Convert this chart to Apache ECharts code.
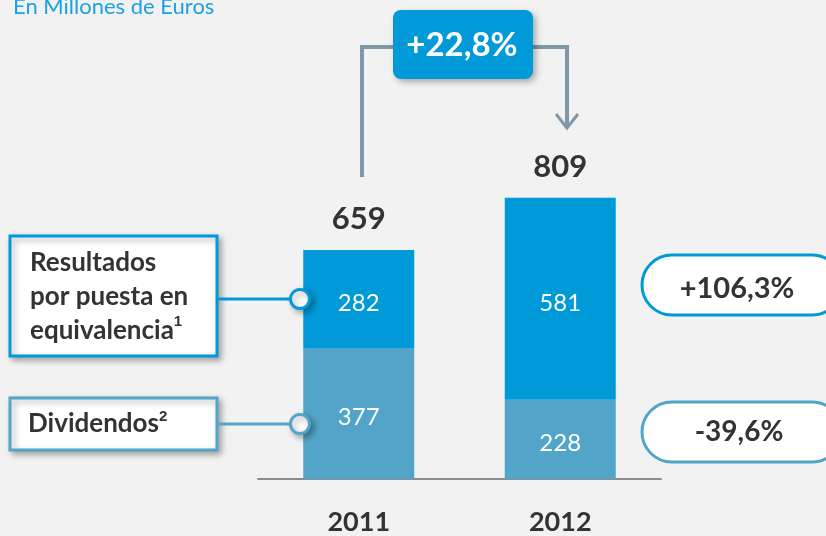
<!DOCTYPE html>
<html>
<head>
<meta charset="utf-8">
<script src="https://cdn.jsdelivr.net/npm/echarts@6/dist/echarts.min.js"></script>
<style>
  html, body { margin: 0; padding: 0; background: #f2f2f2; }
  #chart { width: 826px; height: 536px; }
</style>
</head>
<body>
<div id="chart"></div>
<script>
  // datos (millones de euros)
  const years = ['2011', '2012'];
  const dividendos = [377, 228];
  const resultados = [282, 581];
  const totales = [659, 809];

  const azul = '#009ad8';
  const azulClaro = '#52a5c9';
  const gris = '#7f98a6';
  const texto = '#333333';
  const font = 'Lato, "Noto Sans", sans-serif';

  const sombra = {
    shadowBlur: 6,
    shadowOffsetX: 3,
    shadowOffsetY: 3,
    shadowColor: 'rgba(0,0,0,0.3)'
  };

  const chart = echarts.init(document.getElementById('chart'));
  chart.setOption({
    backgroundColor: '#f2f2f2',
    animation: false,
    grid: { left: 258, right: 165, top: 131.5, bottom: 51 },
    xAxis: {
      type: 'category',
      data: years,
      axisLine: { lineStyle: { color: '#8c8c8c', width: 2 } },
      axisTick: { show: false },
      axisLabel: {
        margin: 30,
        color: texto,
        fontFamily: font,
        fontWeight: 'bold',
        fontSize: 27
      }
    },
    yAxis: {
      type: 'value',
      min: 0,
      max: 1000,
      show: false
    },
    series: [
      {
        name: 'Dividendos',
        type: 'bar',
        stack: 'total',
        barWidth: 111,
        data: dividendos,
        itemStyle: { color: azulClaro },
        label: {
          show: true,
          position: 'inside',
          offset: [0, 4],
          color: '#fff',
          fontFamily: font,
          fontSize: 24
        }
      },
      {
        name: 'Resultados',
        type: 'bar',
        stack: 'total',
        barWidth: 111,
        data: resultados,
        itemStyle: { color: azul },
        label: {
          show: true,
          position: 'inside',
          offset: [0, 4],
          color: '#fff',
          fontFamily: font,
          fontSize: 24
        }
      },
      {
        name: 'Total',
        type: 'scatter',
        data: totales,
        symbolSize: 1,
        itemStyle: { color: 'rgba(0,0,0,0)', opacity: 1 },
        label: {
          show: true,
          position: 'top',
          distance: 15,
          color: texto,
          fontFamily: font,
          fontWeight: 'bold',
          fontSize: 31
        }
      }
    ],
    graphic: {
      elements: [
        // subtitulo
        {
          type: 'text', left: 13, top: -4,
          style: { text: 'En Millones de Euros', fill: '#1ba1e2', font: '22px ' + font }
        },
        // corchete de variación
        {
          type: 'polyline', z: 50,
          shape: { points: [[362, 177], [362, 47], [395, 47]] },
          style: { stroke: gris, lineWidth: 4, fill: null }
        },
        {
          type: 'polyline', z: 50,
          shape: { points: [[531, 47], [567, 47], [567, 128]] },
          style: { stroke: gris, lineWidth: 4, fill: null }
        },
        {
          type: 'polyline', z: 50,
          shape: { points: [[556, 114], [567, 128], [578, 114]] },
          style: { stroke: gris, lineWidth: 3, fill: null }
        },
        {
          type: 'rect', z: 60,
          shape: { x: 393, y: 10, width: 140, height: 69, r: 8 },
          style: Object.assign({ fill: azul }, sombra)
        },
        {
          type: 'text', z: 61, x: 462, y: 45,
          style: {
            text: '+22,8%', fill: '#fff', font: 'bold 33px ' + font,
            align: 'center', verticalAlign: 'middle'
          }
        },
        // caja resultados
        {
          type: 'rect', z: 60,
          shape: { x: 10, y: 236, width: 207, height: 120 },
          style: Object.assign({ fill: '#fff', stroke: azul, lineWidth: 3 }, sombra)
        },
        {
          type: 'text', z: 61, x: 30, y: 246,
          style: {
            text: 'Resultados\npor puesta en\nequivalencia{sup|1}',
            fill: texto, font: 'bold 26px ' + font,
            lineHeight: 34,
            rich: {
              sup: { fontSize: 15, fontWeight: 'bold', fill: texto, verticalAlign: 'top', lineHeight: 24 }
            }
          }
        },
        {
          type: 'line', z: 60,
          shape: { x1: 217, y1: 299, x2: 292, y2: 299 },
          style: { stroke: azul, lineWidth: 3 }
        },
        {
          type: 'circle', z: 62,
          shape: { cx: 300, cy: 299, r: 9.5 },
          style: Object.assign({ fill: '#fff', stroke: azul, lineWidth: 3 }, sombra)
        },
        // caja dividendos
        {
          type: 'rect', z: 60,
          shape: { x: 10, y: 398, width: 207, height: 52 },
          style: Object.assign({ fill: '#fff', stroke: azulClaro, lineWidth: 3 }, sombra)
        },
        {
          type: 'text', z: 61, x: 28, y: 424,
          style: {
            text: 'Dividendos{sup|2}',
            fill: texto, font: 'bold 26px ' + font,
            verticalAlign: 'middle',
            lineHeight: 30,
            rich: {
              sup: { fontSize: 15, fontWeight: 'bold', fill: texto, verticalAlign: 'top', lineHeight: 22 }
            }
          }
        },
        {
          type: 'line', z: 60,
          shape: { x1: 217, y1: 424, x2: 292, y2: 424 },
          style: { stroke: azulClaro, lineWidth: 3 }
        },
        {
          type: 'circle', z: 62,
          shape: { cx: 300, cy: 424, r: 9.5 },
          style: Object.assign({ fill: '#fff', stroke: azulClaro, lineWidth: 3 }, sombra)
        },
        // variaciones por componente
        {
          type: 'rect', z: 60,
          shape: { x: 642, y: 255, width: 200, height: 60, r: 30 },
          style: { fill: '#fff', stroke: azul, lineWidth: 3 }
        },
        {
          type: 'text', z: 61, x: 737, y: 289,
          style: {
            text: '+106,3%', fill: texto, font: 'bold 29px ' + font,
            align: 'center', verticalAlign: 'middle'
          }
        },
        {
          type: 'rect', z: 60,
          shape: { x: 642, y: 402, width: 200, height: 60, r: 30 },
          style: { fill: '#fff', stroke: azulClaro, lineWidth: 3 }
        },
        {
          type: 'text', z: 61, x: 739, y: 432,
          style: {
            text: '-39,6%', fill: texto, font: 'bold 28px ' + font,
            align: 'center', verticalAlign: 'middle'
          }
        }
      ]
    }
  });
</script>
</body>
</html>
